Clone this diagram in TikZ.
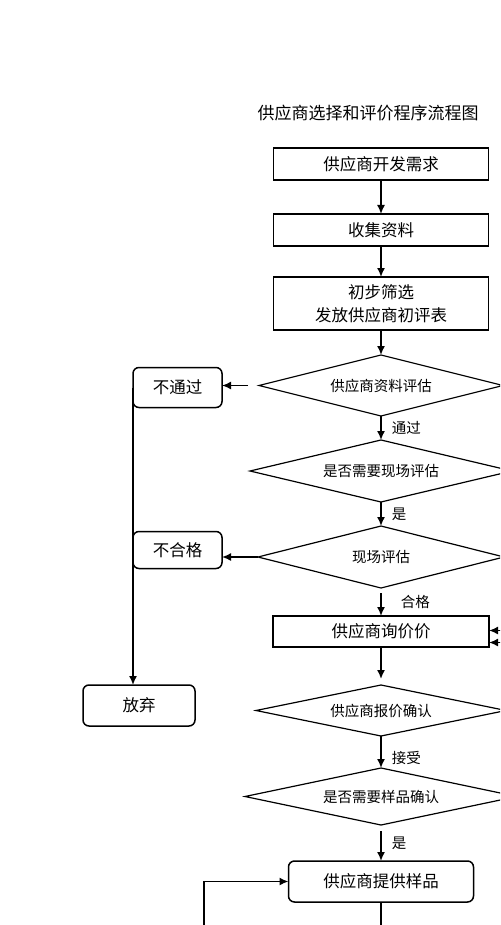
\documentclass[tikz,border=0pt]{standalone}
\usepackage{fontspec}
\setmainfont{Noto Sans CJK SC}
\usepackage{tikz}
\usetikzlibrary{positioning, arrows.meta, shapes.geometric}

\begin{document}
\begin{tikzpicture}[node distance=24pt, auto]
    % Define styles
    \tikzstyle{box} = [rectangle, draw, line width=1.5pt, inner sep=0pt, outer sep=0pt, align=center, font=\fontsize{16.5}{23}\selectfont]
    \tikzstyle{roundbox} = [box, rounded corners=6pt]
    \tikzstyle{decision} = [diamond, draw, line width=1.2pt, inner sep=0pt, outer sep=0pt, aspect=4, font=\fontsize{14.5}{17}\selectfont]
    \tikzstyle{passlabel} = [anchor=west, inner sep=0pt, xshift=10pt, font=\fontsize{14.5}{17}\selectfont]
    \tikzstyle{arrow} = [line width=1.6pt, -{Latex[length=9pt,width=8pt]}]

    % Frame
    \useasboundingbox (0,0) rectangle (500pt,-925pt);
    \clip (0,0) rectangle (500pt,-925pt);

    % Title
    \node [inner sep=0pt, font=\fontsize{17}{20}\selectfont] (title) at (368pt,-113pt) {供应商选择和评价程序流程图};

    % Main column
    \node [box, minimum width=215pt, minimum height=32pt] (develop) at (381pt,-164pt) {供应商开发需求};
    \node [box, minimum width=215pt, minimum height=32pt, below=34pt of develop] (collect) {收集资料};
    \node [box, minimum width=215pt, minimum height=53pt, below=31pt of collect] (screen) {初步筛选\\发放供应商初评表};
    \node [decision, minimum width=244pt, minimum height=61pt, below=25pt of screen] (datacheck) {供应商资料评估};
    \node [decision, minimum width=262pt, minimum height=62pt, below=24pt of datacheck] (needsite) {是否需要现场评估};
    \node [decision, minimum width=246pt, minimum height=62pt, below=24pt of needsite] (sitecheck) {现场评估};
    \node [box, minimum width=216pt, minimum height=31pt, below=28pt of sitecheck] (inquiry) {供应商询价价};
    \node [decision, minimum width=250pt, minimum height=51pt, below=38pt of inquiry] (quote) {供应商报价确认};
    \node [decision, minimum width=272pt, minimum height=57pt, below=32pt of quote] (needsample) {是否需要样品确认};
    \node [roundbox, minimum width=185pt, minimum height=41pt, below=36pt of needsample] (sample) {供应商提供样品};

    % Left column
    \node [roundbox, minimum width=89pt, minimum height=40pt, left=37pt of datacheck, yshift=-2pt] (failed) {不通过};
    \node [roundbox, minimum width=89pt, minimum height=37pt, left=36pt of sitecheck, yshift=7pt] (unqualified) {不合格};
    \node [roundbox, minimum width=112pt, minimum height=41pt, left=61pt of quote, yshift=5pt] (giveup) {放弃};

    % Loose ends
    \coordinate (backA) at ([xshift=40pt,yshift=1pt]inquiry.east);
    \coordinate (backB) at ([xshift=40pt,yshift=-11pt]inquiry.east);
    \coordinate (belowsample) at ([yshift=-40pt]sample.south);
    \coordinate (loopin) at (204pt,-950pt);

    % Arrows
    \draw [arrow] (develop) -- (collect);
    \draw [arrow] (collect) -- (screen);
    \draw [arrow] (screen) -- (datacheck);
    \draw [arrow] (datacheck) -- node[passlabel] {通过} (needsite);
    \draw [arrow] (needsite) -- node[passlabel] {是} (sitecheck);
    \draw [arrow, shorten <=5pt] (sitecheck) -- node[passlabel, xshift=9pt] {合格} (inquiry);
    \draw [arrow, shorten >=6pt] (inquiry) -- (quote);
    \draw [arrow] (quote) -- node[passlabel, pos=0.7] {接受} (needsample);
    \draw [arrow, shorten <=6pt] (needsample) -- node[passlabel] {是} (sample);
    \draw [arrow, shorten <=11pt] (datacheck.west) -- (datacheck.west -| failed.east);
    \draw [arrow] (sitecheck.west) -- (sitecheck.west -| unqualified.east);
    \draw [arrow] (failed.west) -- (failed.west |- giveup.north);
    \draw [arrow] (backA) -- (backA -| inquiry.east);
    \draw [arrow] (backB) -- (backB -| inquiry.east);
    \draw [line width=1.6pt] (sample.south) -- (belowsample);
    \draw [arrow] (loopin) |- (sample.west);
\end{tikzpicture}
\end{document}
